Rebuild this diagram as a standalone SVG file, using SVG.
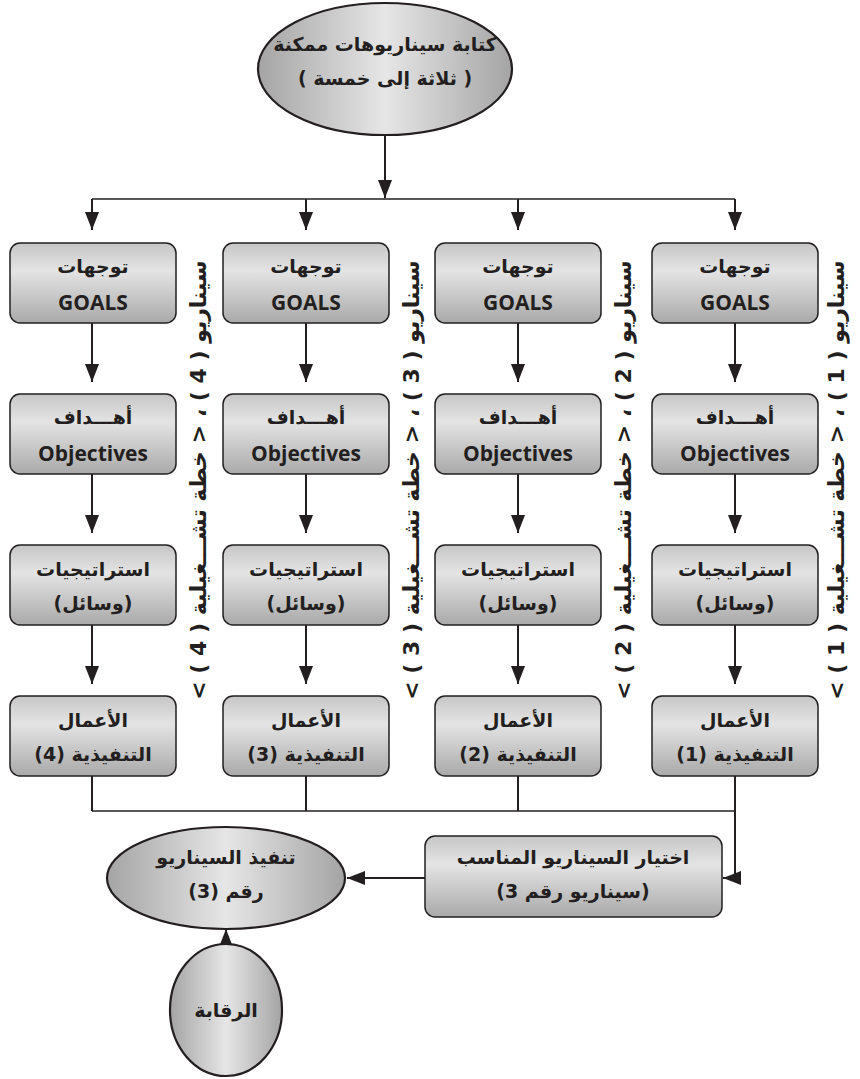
<svg xmlns="http://www.w3.org/2000/svg" width="860" height="1079" viewBox="0 0 860 1079">
<style>
.box{stroke:#231f20;stroke-width:1.5;fill:url(#gb)}
.ell{stroke:#231f20;stroke-width:2.2;fill:url(#ge)}
.ar{font-family:"DejaVu Sans",sans-serif;font-weight:bold;font-size:19px;fill:#231f20;text-anchor:middle;direction:rtl}
.en{font-family:"Open Sans","Liberation Sans",sans-serif;font-weight:bold;font-size:21px;fill:#231f20;text-anchor:middle}
.vt{font-family:"DejaVu Sans",sans-serif;font-weight:bold;font-size:22px;fill:#231f20;text-anchor:middle;direction:rtl}
.ln{stroke:#231f20;stroke-width:2;fill:none}
.thin{stroke:#231f20;stroke-width:1.3;fill:none}
</style>
<defs>
<linearGradient id="gb" x1="0" y1="0" x2="0" y2="1">
<stop offset="0" stop-color="#c6c6c6"/>
<stop offset="0.35" stop-color="#e4e4e4"/>
<stop offset="1" stop-color="#a9a9a9"/>
</linearGradient>
<linearGradient id="ge" x1="0" y1="0" x2="1" y2="0">
<stop offset="0" stop-color="#a4a4a4"/>
<stop offset="0.5" stop-color="#e6e6e6"/>
<stop offset="1" stop-color="#a4a4a4"/>
</linearGradient>
<marker id="ah" markerUnits="userSpaceOnUse" markerWidth="18" markerHeight="14" refX="18" refY="7" orient="auto">
<path d="M0,0 L18,7 L0,14 z" fill="#231f20"/>
</marker>
</defs>

<g id="connectors">
<line class="ln" x1="385" y1="136" x2="385" y2="198" stroke-width="2.5" marker-end="url(#ah)"/>
<line class="thin" x1="92" y1="199" x2="735" y2="199"/>
<line class="ln" x1="92" y1="199" x2="92" y2="230" marker-end="url(#ah)"/>
<line class="ln" x1="306" y1="199" x2="306" y2="230" marker-end="url(#ah)"/>
<line class="ln" x1="518" y1="199" x2="518" y2="230" marker-end="url(#ah)"/>
<line class="ln" x1="735" y1="199" x2="735" y2="230" marker-end="url(#ah)"/>
<line class="ln" x1="92" y1="323" x2="92" y2="382" marker-end="url(#ah)"/>
<line class="ln" x1="306" y1="323" x2="306" y2="382" marker-end="url(#ah)"/>
<line class="ln" x1="518" y1="323" x2="518" y2="382" marker-end="url(#ah)"/>
<line class="ln" x1="735" y1="323" x2="735" y2="382" marker-end="url(#ah)"/>
<line class="ln" x1="92" y1="474" x2="92" y2="533" marker-end="url(#ah)"/>
<line class="ln" x1="306" y1="474" x2="306" y2="533" marker-end="url(#ah)"/>
<line class="ln" x1="518" y1="474" x2="518" y2="533" marker-end="url(#ah)"/>
<line class="ln" x1="735" y1="474" x2="735" y2="533" marker-end="url(#ah)"/>
<line class="ln" x1="92" y1="625" x2="92" y2="684" marker-end="url(#ah)"/>
<line class="ln" x1="306" y1="625" x2="306" y2="684" marker-end="url(#ah)"/>
<line class="ln" x1="518" y1="625" x2="518" y2="684" marker-end="url(#ah)"/>
<line class="ln" x1="735" y1="625" x2="735" y2="684" marker-end="url(#ah)"/>
<line class="ln" x1="92" y1="776" x2="92" y2="811"/>
<line class="ln" x1="306" y1="776" x2="306" y2="811"/>
<line class="ln" x1="518" y1="776" x2="518" y2="811"/>
<line class="thin" x1="92" y1="811" x2="735" y2="811"/>
<path class="ln" d="M735,776 V878 H723" marker-end="url(#ah)"/>
<line class="ln" x1="425" y1="878" x2="347" y2="878" marker-end="url(#ah)"/>
<line class="ln" x1="226" y1="944" x2="226" y2="929" marker-end="url(#ah)"/>
</g>

<g id="start">
<ellipse class="ell" cx="385" cy="69" rx="127" ry="66"/>
<text class="ar" x="385" y="51">كتابة سيناريوهات ممكنة</text>
<text class="ar" x="385" y="85">( ثلاثة إلى خمسة )</text>
</g>

<g id="col1">
<rect class="box" x="652" y="243" width="166" height="80" rx="10"/>
<text class="ar" x="735" y="273">توجهات</text>
<text class="en" x="735" y="310">GOALS</text>
<rect class="box" x="652" y="394" width="166" height="80" rx="10"/>
<text class="ar" x="735" y="424">أهـــداف</text>
<text class="en" x="735" y="461">Objectives</text>
<rect class="box" x="652" y="545" width="166" height="80" rx="10"/>
<text class="ar" x="735" y="576">استراتيجيات</text>
<text class="ar" x="735" y="610">(وسائل)</text>
<rect class="box" x="652" y="696" width="166" height="80" rx="10"/>
<text class="ar" x="735" y="727">الأعمال</text>
<text class="ar" x="735" y="761">التنفيذية (1)</text>
<text class="vt" transform="translate(844,480) rotate(-90)">سيناريو ( 1 ) ، &lt; خطة تشـــغيلية ( 1 ) &gt;</text>
</g>

<g id="col2">
<rect class="box" x="435" y="243" width="166" height="80" rx="10"/>
<text class="ar" x="518" y="273">توجهات</text>
<text class="en" x="518" y="310">GOALS</text>
<rect class="box" x="435" y="394" width="166" height="80" rx="10"/>
<text class="ar" x="518" y="424">أهـــداف</text>
<text class="en" x="518" y="461">Objectives</text>
<rect class="box" x="435" y="545" width="166" height="80" rx="10"/>
<text class="ar" x="518" y="576">استراتيجيات</text>
<text class="ar" x="518" y="610">(وسائل)</text>
<rect class="box" x="435" y="696" width="166" height="80" rx="10"/>
<text class="ar" x="518" y="727">الأعمال</text>
<text class="ar" x="518" y="761">التنفيذية (2)</text>
<text class="vt" transform="translate(631,480) rotate(-90)">سيناريو ( 2 ) ، &lt; خطة تشـــغيلية ( 2 ) &gt;</text>
</g>

<g id="col3">
<rect class="box" x="223" y="243" width="166" height="80" rx="10"/>
<text class="ar" x="306" y="273">توجهات</text>
<text class="en" x="306" y="310">GOALS</text>
<rect class="box" x="223" y="394" width="166" height="80" rx="10"/>
<text class="ar" x="306" y="424">أهـــداف</text>
<text class="en" x="306" y="461">Objectives</text>
<rect class="box" x="223" y="545" width="166" height="80" rx="10"/>
<text class="ar" x="306" y="576">استراتيجيات</text>
<text class="ar" x="306" y="610">(وسائل)</text>
<rect class="box" x="223" y="696" width="166" height="80" rx="10"/>
<text class="ar" x="306" y="727">الأعمال</text>
<text class="ar" x="306" y="761">التنفيذية (3)</text>
<text class="vt" transform="translate(419,480) rotate(-90)">سيناريو ( 3 ) ، &lt; خطة تشـــغيلية ( 3 ) &gt;</text>
</g>

<g id="col4">
<rect class="box" x="10" y="243" width="166" height="80" rx="10"/>
<text class="ar" x="93" y="273">توجهات</text>
<text class="en" x="93" y="310">GOALS</text>
<rect class="box" x="10" y="394" width="166" height="80" rx="10"/>
<text class="ar" x="93" y="424">أهـــداف</text>
<text class="en" x="93" y="461">Objectives</text>
<rect class="box" x="10" y="545" width="166" height="80" rx="10"/>
<text class="ar" x="93" y="576">استراتيجيات</text>
<text class="ar" x="93" y="610">(وسائل)</text>
<rect class="box" x="10" y="696" width="166" height="80" rx="10"/>
<text class="ar" x="93" y="727">الأعمال</text>
<text class="ar" x="93" y="761">التنفيذية (4)</text>
<text class="vt" transform="translate(206,480) rotate(-90)">سيناريو ( 4 ) ، &lt; خطة تشـــغيلية ( 4 ) &gt;</text>
</g>

<g id="select">
<rect class="box" x="425" y="836" width="297" height="81" rx="10"/>
<text class="ar" x="573" y="864">اختيار السيناريو المناسب</text>
<text class="ar" x="573" y="898">(سيناريو رقم 3)</text>
</g>

<g id="execute">
<ellipse class="ell" cx="226" cy="878" rx="119" ry="51"/>
<text class="ar" x="226" y="864">تنفيذ السيناريو</text>
<text class="ar" x="226" y="898">رقم (3)</text>
</g>

<g id="control">
<ellipse class="ell" cx="226" cy="1010" rx="56" ry="66"/>
<text class="ar" x="226" y="1017">الرقابة</text>
</g>
</svg>
